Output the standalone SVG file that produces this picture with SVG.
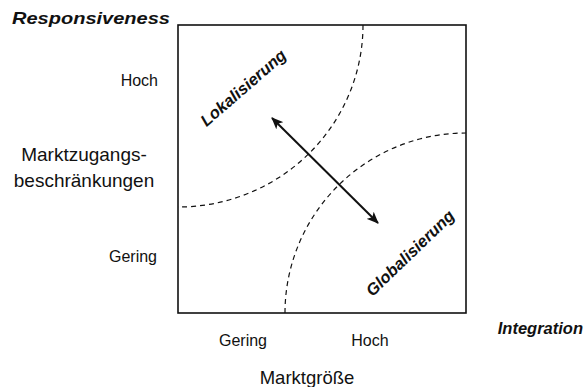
<svg xmlns="http://www.w3.org/2000/svg" width="584" height="387" viewBox="0 0 584 387">
  <style>
    .lbl { font-family: "Liberation Sans", Arial, sans-serif; font-size: 16px; fill: #111; }
    .big { font-size: 19px; }
    .mid { font-size: 18.5px; }
    .axis { font-family: "Liberation Sans", Arial, sans-serif; font-size: 16.5px; font-weight: bold; font-style: italic; fill: #111; }
    .zone { font-family: "Liberation Sans", Arial, sans-serif; font-size: 16.5px; font-weight: bold; font-style: italic; fill: #111; }
    .frame { fill: #fff; stroke: #111; stroke-width: 1.6; }
    .dash { fill: none; stroke: #111; stroke-width: 1.2; stroke-dasharray: 5 4; }
    .arrow { fill: none; stroke: #111; stroke-width: 2; }
  </style>
  <defs>
    <marker id="ah" viewBox="0 0 12 10" refX="11" refY="5" markerWidth="12" markerHeight="10" markerUnits="userSpaceOnUse" orient="auto-start-reverse">
      <path d="M0,0 L12,5 L0,10 L3,5 Z" fill="#111"/>
    </marker>
  </defs>
  <rect width="584" height="387" fill="#fff"/>

  <g id="matrix">
    <rect class="frame" x="178" y="25" width="288" height="288"/>
  </g>

  <g id="curves">
    <path class="dash" d="M363,25 A185,182 0 0 1 178,207"/>
    <path class="dash" d="M285,313 A181,180 0 0 1 466,133"/>
  </g>

  <g id="connectors">
    <line class="arrow" x1="272" y1="118" x2="378" y2="223" marker-start="url(#ah)" marker-end="url(#ah)"/>
  </g>

  <g id="zone-lokalisierung">
    <text class="zone" x="247" y="92" text-anchor="middle" transform="rotate(-41 247 92)">Lokalisierung</text>
  </g>
  <g id="zone-globalisierung">
    <text class="zone" x="414" y="257" text-anchor="middle" transform="rotate(-44 414 257)">Globalisierung</text>
  </g>

  <g id="y-axis">
    <text class="axis" x="170" y="24" text-anchor="end" font-size="17" textLength="158" lengthAdjust="spacingAndGlyphs">Responsiveness</text>
    <text class="lbl" x="158" y="86" text-anchor="end">Hoch</text>
    <text class="lbl big" x="84" y="161" text-anchor="middle">Marktzugangs-</text>
    <text class="lbl big" x="84" y="187" text-anchor="middle">beschränkungen</text>
    <text class="lbl" x="157" y="262" text-anchor="end">Gering</text>
  </g>

  <g id="x-axis">
    <text class="lbl" x="243" y="346" text-anchor="middle">Gering</text>
    <text class="lbl" x="370" y="346" text-anchor="middle">Hoch</text>
    <text class="axis" x="583" y="334" text-anchor="end">Integration</text>
    <text class="lbl mid" x="307" y="384" text-anchor="middle">Marktgröße</text>
  </g>
</svg>
